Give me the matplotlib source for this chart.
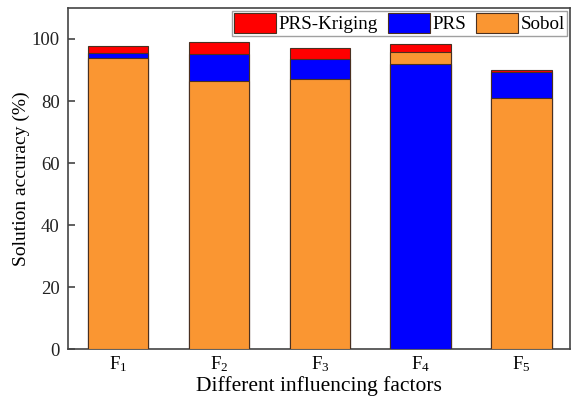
import numpy as np
import matplotlib.pyplot as plt
from matplotlib.patches import Patch

plt.rcParams['font.family'] = ['Liberation Serif', 'DejaVu Serif']
plt.rcParams['mathtext.fontset'] = 'stix'

factors = ['$\\mathregular{F_1}$', '$\\mathregular{F_2}$', '$\\mathregular{F_3}$',
           '$\\mathregular{F_4}$', '$\\mathregular{F_5}$']
methods = ['PRS-Kriging', 'PRS', 'Sobol']
prs_kriging = [97.7, 99.1, 97.2, 98.3, 90.0]
prs = [95.6, 95.3, 93.4, 91.8, 89.4]
sobol = [93.8, 86.3, 87.0, 95.9, 81.1]
colors = {'PRS-Kriging': '#FF0000', 'PRS': '#0000FF', 'Sobol': '#FA9632'}

values = {'PRS-Kriging': prs_kriging, 'PRS': prs, 'Sobol': sobol}
x = np.arange(1, len(factors) + 1)

fig, ax = plt.subplots(figsize=(5.75, 3.99), dpi=100)
fig.subplots_adjust(left=0.118, right=0.991, top=0.98, bottom=0.125)

# bars overlap: the tallest goes behind, shorter ones in front
for i in range(len(factors)):
    order = sorted(methods, key=lambda m: values[m][i], reverse=True)
    for rank, m in enumerate(order):
        ax.bar(x[i], values[m][i], width=0.6, color=colors[m],
               edgecolor='#4a3020', linewidth=0.8, zorder=2 + rank)

ax.set_xlim(0.5, 5.48)
ax.set_ylim(0, 110)
ax.set_yticks([0, 20, 40, 60, 80, 100])
ax.set_xticks(x)
ax.set_xticklabels(factors)
ax.tick_params(axis='x', length=0, labelsize=13.5, pad=4)
ax.tick_params(axis='y', direction='in', length=5, width=1.2, labelsize=13.5,
               colors='#444444', pad=6)
ax.tick_params(axis='y', labelcolor='#222222')
for s in ax.spines.values():
    s.set_linewidth(1.2)
    s.set_color('#444444')

ax.set_xlabel('Different influencing factors', fontsize=15.5, labelpad=1)
ax.set_ylabel('Solution accuracy (%)', fontsize=14, labelpad=1)

handles = [Patch(facecolor=colors[m], edgecolor='#4a3020', linewidth=0.8) for m in methods]
leg = ax.legend(handles, methods, ncol=3, loc='upper right', fontsize=13.7,
                frameon=True, fancybox=False, edgecolor='#888888',
                handlelength=2.2, handleheight=1.2, handletextpad=0.15,
                columnspacing=0.5, borderpad=0.12, borderaxespad=0.15)
leg.get_frame().set_linewidth(1.0)

fig.savefig('out.png', dpi=100)
